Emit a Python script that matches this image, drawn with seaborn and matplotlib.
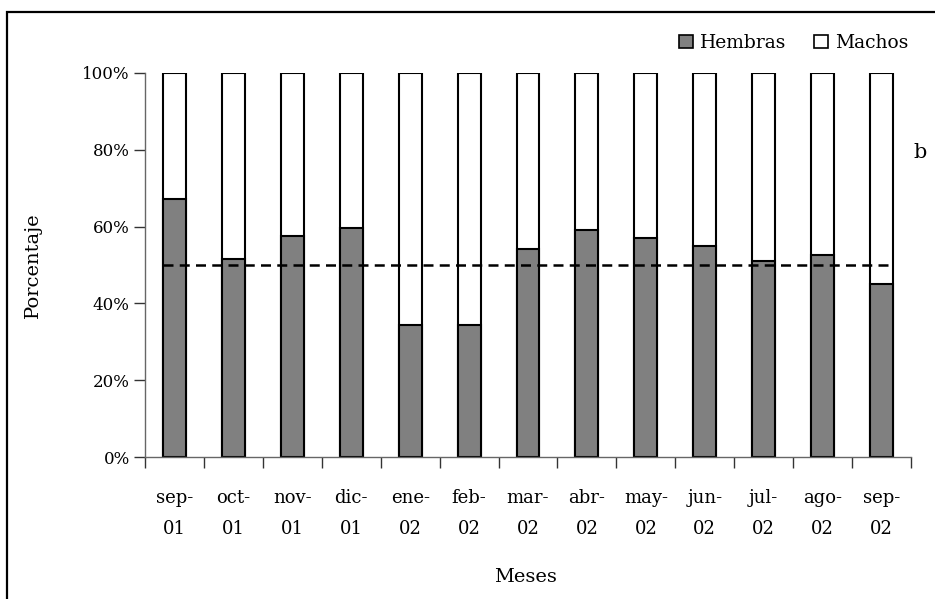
import matplotlib
matplotlib.use("Agg")
import matplotlib.pyplot as plt
from matplotlib.patches import Rectangle, Patch
import seaborn as sns
import pandas as pd

# Monthly sex ratio (% of females; males make up the rest)
meses = ["sep-\n01", "oct-\n01", "nov-\n01", "dic-\n01", "ene-\n02", "feb-\n02",
         "mar-\n02", "abr-\n02", "may-\n02", "jun-\n02", "jul-\n02", "ago-\n02", "sep-\n02"]
hembras = [67.2, 51.5, 57.5, 59.5, 34.3, 34.3, 54.1, 59.1, 57.1, 55.0, 51.1, 52.5, 45.0]
machos = [100 - h for h in hembras]
referencia = 50

df = pd.DataFrame({"mes": meses, "Hembras": hembras, "Machos": machos})
df["total"] = df["Hembras"] + df["Machos"]

sns.set_style("white")
plt.rcParams["font.family"] = ["DejaVu Serif"]
plt.rcParams["text.color"] = "black"
plt.rcParams["xtick.color"] = "black"
plt.rcParams["ytick.color"] = "black"

W, H = 935, 599
fig = plt.figure(figsize=(W / 100, H / 100), dpi=100)
ax = fig.add_axes([145 / W, 1 - 457.3 / H, (911 - 145) / W, (457.3 - 72.7) / H])

gris = "#808080"
bw = 0.39
# full-height bar (males on top), then female portion drawn over it
sns.barplot(data=df, x="mes", y="total", color="white", edgecolor="black",
            linewidth=1.5, width=bw, ax=ax, saturation=1)
sns.barplot(data=df, x="mes", y="Hembras", color=gris, edgecolor="black",
            linewidth=1.5, width=bw, ax=ax, saturation=1)

n = len(meses)
ax.hlines(referencia, -bw / 2, n - 1 + bw / 2, colors="black", linestyles=(0, (4, 2.5)),
          linewidth=1.8, zorder=5)

ax.set_xlim(-0.5, n - 0.5)
ax.set_ylim(0, 100)
ax.set_yticks([0, 20, 40, 60, 80, 100])
ax.set_yticklabels([f"{v}%" for v in [0, 20, 40, 60, 80, 100]], fontsize=12)
ax.set_xticks(range(n))
ax.set_xticklabels(meses, fontsize=13, linespacing=1.9)
ax.set_xticks([i - 0.5 for i in range(n + 1)], minor=True)
ax.tick_params(axis="x", which="major", bottom=True, length=0, pad=23, labelcolor="black")
ax.tick_params(axis="x", which="minor", bottom=True, length=8, width=1,
               color="#333333", direction="out")
ax.tick_params(axis="y", which="major", left=True, length=8, width=1, color="#333333",
               direction="out", pad=3, labelcolor="black")

for s in ["top", "right"]:
    ax.spines[s].set_visible(False)
for s in ["left", "bottom"]:
    ax.spines[s].set_color("#666666")
    ax.spines[s].set_linewidth(1)

ax.set_xlabel("")
ax.set_ylabel("")
fig.text(33 / W, 1 - 265 / H, "Porcentaje", rotation=90, ha="center", va="center",
         fontsize=14, color="black")
fig.text(525 / W, 1 - 577 / H, "Meses", ha="center", va="center", fontsize=14, color="black")
fig.text(920 / W, 1 - 152 / H, "b", ha="center", va="center", fontsize=15, color="black")

handles = [Patch(facecolor=gris, edgecolor="black", linewidth=1.2),
           Patch(facecolor="white", edgecolor="black", linewidth=1.2)]
leg = fig.legend(handles, ["Hembras", "Machos"], loc="center right",
                 bbox_to_anchor=(908 / W, 1 - 43 / H), ncol=2, frameon=False, fontsize=13.5,
                 handlelength=0.75, handleheight=0.75, handletextpad=0.35, columnspacing=1.5,
                 borderpad=0, borderaxespad=0, labelcolor="black")

# outer frame, cut by the image's right and bottom edges
fig.add_artist(Rectangle((7 / W, -0.1), 1.2, 1.1 - 12 / H, transform=fig.transFigure,
                         fill=False, edgecolor="black", linewidth=1.6))

fig.savefig("out.png", dpi=100)
